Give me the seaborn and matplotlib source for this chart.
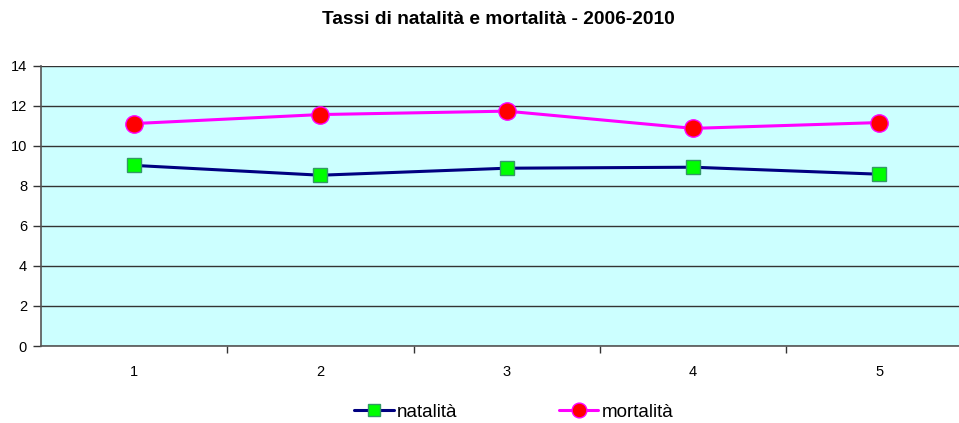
import pandas as pd
import matplotlib.pyplot as plt
import seaborn as sns

# valori
anni = [1, 2, 3, 4, 5]
natalita = [9.02, 8.53, 8.88, 8.93, 8.58]
mortalita = [11.11, 11.56, 11.73, 10.87, 11.16]
y_ticks = [0, 2, 4, 6, 8, 10, 12, 14]

df = pd.DataFrame({
    "anno": anni * 2,
    "tasso": natalita + mortalita,
    "serie": ["natalità"] * len(anni) + ["mortalità"] * len(anni),
})

sns.set_style("white")
plt.rcParams["font.family"] = ["Liberation Sans", "DejaVu Sans"]
plt.rcParams["text.color"] = "black"

fig = plt.figure(figsize=(9.59, 4.23), dpi=100)
ax = fig.add_axes([41 / 959, 77 / 423, 918 / 959, 280.3 / 423])
ax.set_facecolor("#CCFFFF")

sns.lineplot(data=df[df.serie == "natalità"], x="anno", y="tasso", ax=ax,
             color="#000080", lw=2.2, marker="s", markersize=10,
             markerfacecolor="#00FF00", markeredgecolor="#339966",
             markeredgewidth=1, label="natalità", zorder=3)
sns.lineplot(data=df[df.serie == "mortalità"], x="anno", y="tasso", ax=ax,
             color="#FF00FF", lw=2.2, marker="o", markersize=12.5,
             markerfacecolor="#FF0000", markeredgecolor="#FF00FF",
             markeredgewidth=1, label="mortalità", zorder=3)

ax.set_xlim(0.5, 0.5 + 918 / 186.3)
ax.set_ylim(0, 14)
ax.set_yticks(y_ticks)
ax.set_xticks(anni)
ax.set_xticks([1.5, 2.5, 3.5, 4.5], minor=True)
ax.grid(axis="y", color="#333333", lw=1)
ax.set_axisbelow(True)
ax.tick_params(axis="x", which="major", length=0, pad=14, labelsize=10.5, labelcolor="black")
ax.tick_params(axis="x", which="minor", length=5, direction="out", color="#333333", width=1)
ax.tick_params(axis="y", length=6, direction="out", color="#333333", width=1, labelsize=10.5,
               pad=4, labelcolor="black")
ax.tick_params(left=True, bottom=True, which="both")
for s in ["top", "right"]:
    ax.spines[s].set_visible(False)
for s in ["left", "bottom"]:
    ax.spines[s].set_color("#555555")
    ax.spines[s].set_linewidth(1.2)
ax.set_xlabel("")
ax.set_ylabel("")

fig.suptitle("Tassi di natalità e mortalità - 2006-2010", x=498 / 959, y=1 - 20 / 423,
             va="center", fontsize=13.8, fontweight="bold", color="black")

ax.legend(loc="center", bbox_to_anchor=(514 / 959, 11 / 423), bbox_transform=fig.transFigure,
          ncol=2, frameon=False, fontsize=13.5, columnspacing=5.4, handlelength=2.1,
          handletextpad=0.2, markerscale=0.85)

fig.savefig("out.png", dpi=100)
